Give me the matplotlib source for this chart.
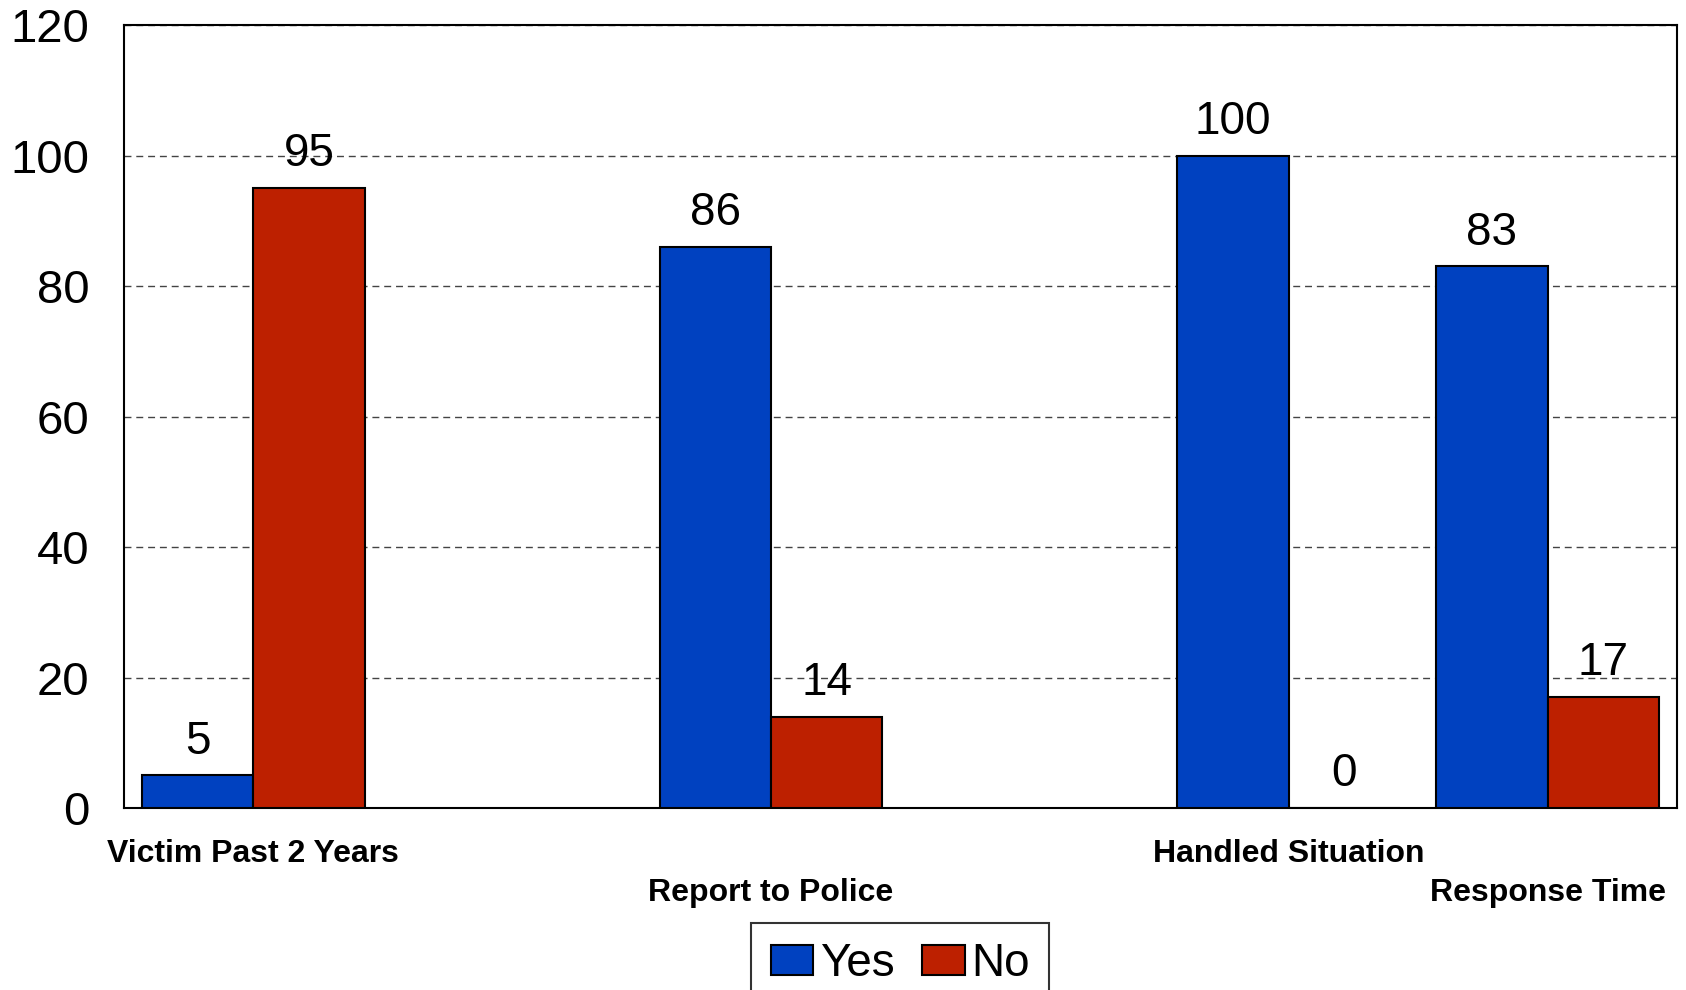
import numpy as np
import matplotlib
matplotlib.use("Agg")
import matplotlib.pyplot as plt

plt.rcParams['font.family'] = ['Liberation Sans', 'DejaVu Sans']

# blank slots keep the uneven spacing of the original chart
categories = ["Victim Past 2 Years", "", "Report to Police", "", "Handled Situation", "Response Time"]
yes = [5, np.nan, 86, np.nan, 100, 83]
no = [95, np.nan, 14, np.nan, 0, 17]
label_row = [0, 0, 1, 0, 0, 1]

blue = '#0041C0'
red = '#BD2000'

fig = plt.figure(figsize=(16.86, 9.9), dpi=100)
ax = fig.add_axes([0.0735, 0.1838, 0.9212, 0.7909])

x = np.arange(len(categories))
w = 0.43
b1 = ax.bar(x - w / 2, yes, w, color=blue, edgecolor='black', linewidth=1.5, label='Yes', zorder=3)
b2 = ax.bar(x + w / 2, no, w, color=red, edgecolor='black', linewidth=1.5, label='No', zorder=3)

for bars, vals in ((b1, yes), (b2, no)):
    labs = ['' if np.isnan(v) else '%d' % v for v in vals]
    ax.bar_label(bars, labels=labs, padding=8.5, fontsize=33)

ax.set_xlim(-0.5, len(categories) - 0.5)
ax.set_ylim(0, 120)
ax.set_yticks(range(0, 121, 20))
ax.tick_params(axis='y', length=0, pad=25, labelsize=34)
ax.set_xticks([])

for xi, name, row in zip(x, categories, label_row):
    if name:
        ax.text(xi, -0.039 - row * 0.05, name, transform=ax.get_xaxis_transform(),
                ha='center', va='top', fontsize=23, fontweight='bold')

ax.yaxis.grid(True, color='#444444', linestyle=(0, (5, 3.5)), linewidth=1, zorder=0)
ax.set_axisbelow(True)
for s in ax.spines.values():
    s.set_linewidth(1.5)
    s.set_color('black')

leg = fig.legend(loc='upper center', bbox_to_anchor=(0.534, 0.068), ncol=2, fontsize=33,
                 frameon=True, fancybox=False, edgecolor='black', handlelength=0.93,
                 handleheight=0.62, handletextpad=0.15, columnspacing=0.6, borderpad=0.42,
                 borderaxespad=0)
leg.get_frame().set_linewidth(1.5)

fig.savefig('out.png', dpi=100)
